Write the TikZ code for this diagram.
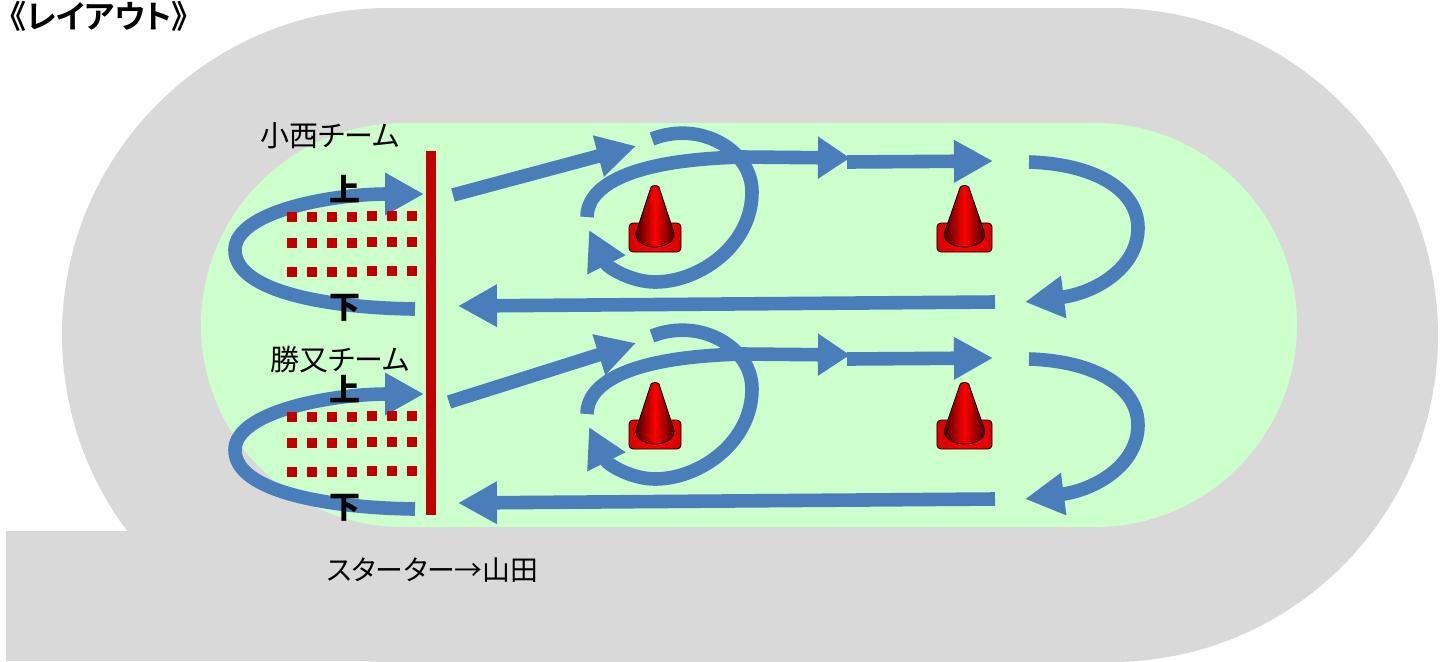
\documentclass[tikz,border=0pt]{standalone}
\usepackage{fontspec}
\usetikzlibrary{arrows.meta}
\newfontfamily\jp[RawFeature=+palt]{Noto Sans CJK JP}
\newfontfamily\jpb[RawFeature=+palt]{Noto Sans CJK JP Bold}
\newfontfamily\jpk{Noto Sans CJK JP Black}
\definecolor{track}{HTML}{D9D9D9}
\definecolor{field}{HTML}{CCFFCC}
\definecolor{flow}{HTML}{4A7EBB}
\definecolor{barred}{HTML}{C00000}
\begin{document}
\begin{tikzpicture}[x=.5pt,y=-.5pt]
\tikzset{run/.style={draw=flow,line width=6.8pt,-{Triangle[length=19.5pt,width=20pt]}}}
\tikzset{name label/.style={font=\jp\fontsize{14.5pt}{16pt}\selectfont,inner sep=0pt}}
\tikzset{mark label/.style={font=\jpk\fontsize{15.5pt}{16pt}\selectfont,inner sep=0pt}}
\tikzset{dot/.style={fill=barred,minimum size=5pt,inner sep=0pt}}
\tikzset{trafficcone/.pic={
  \draw[draw=black,line width=.4pt,rounded corners=2pt,left color=red!85!black,right color=red!85!black,middle color=red]
    (-26,-10) rectangle (26,19);
  \draw[draw=black,line width=.4pt,left color=black!75!red,right color=black!75!red,middle color=red]
    (-4,-46) .. controls (-2,-48) and (2,-48) .. (4,-46) -- (19,0)
    .. controls (20,10) and (8,14) .. (0,14) .. controls (-8,14) and (-20,10) .. (-19,0) -- cycle;
}}
\clip(0,0)rectangle(1448,661);

% ground
\fill[track,rounded corners=163.5pt](62,8)rectangle(1438,662);
\fill[track](6,531)rectangle(500,661);
\fill[field,rounded corners=101pt](201,123)rectangle(1297,527);

\node[font=\jpb\fontsize{16pt}{16pt}\selectfont,inner sep=0pt,anchor=west](title)at(10,16){《レイアウト》};
\node[name label](konishi)at(330,136){小西チーム};
\node[name label](katsumata)at(340,360){勝又チーム};
\node[font=\jp\fontsize{13.9pt}{16pt}\selectfont,inner sep=0pt](starter)at(432.5,570){スターター→山田};

% one team
\foreach \dy/\dl/\sx/\sy/\ty/\n in {0/0/453/195/146/a,197/200/449/402/343/b}{
\coordinate(S\n)at(\sx,\sy);
\coordinate(T\n)at(636,\ty);
\draw[run](S\n)--(T\n);
\begin{scope}[shift={(0,\dl)}]
\coordinate(L0)at(415,309);
\coordinate(L1)at(235,250);
\coordinate(L2)at(424,194);
\draw[run](L0)..controls(330,308)and(235,292)..(L1)..controls(235,212)and(330,194)..(L2);

\foreach \col in {0,...,6}{
\node[dot](d1\col)at({292+20*\col},{217-\col/6}){};
\node[dot](d2\col)at({292+20*\col},{243-\col/6}){};
\node[dot](d3\col)at({292+20*\col},{272-\col/6}){};
}
\node[mark label](up)at(345,189){上};
\node[mark label](down)at(345,308){下};
\end{scope}
\begin{scope}[shift={(0,\dy)}]
\coordinate(C0)at(652,139);
\coordinate(C1)at(752,192);
\coordinate(C2)at(655,282);
\coordinate(C3)at(589,230);
\draw[run](C0)..controls(700,120)and(752,150)..(C1)..controls(752,245)and(700,282)..(C2)
  ..controls(632,282)and(608,268)..(C3);

\coordinate(D0)at(587,217);
\coordinate(D1)at(743,157);
\coordinate(D2)at(850,158);
\draw[run,-{Triangle[length=16pt,width=20pt]}](D0)..controls(587,190)and(620,160)..(D1)--(D2);

\coordinate(E0)at(847,162);
\coordinate(E1)at(993,161);
\draw[run](E0)--(E1);

\coordinate(F0)at(1029,162);
\coordinate(F1)at(1138,228);
\coordinate(F2)at(1025,302);
\draw[run](F0)..controls(1095,164)and(1138,190)..(F1)..controls(1138,268)and(1095,293)..(F2);

\coordinate(G0)at(995,302);
\coordinate(G1)at(458,306);
\draw[run](G0)--(G1);

\pic at(655,233){trafficcone};
\pic[xscale=1.06] at(964.5,233){trafficcone};
\end{scope}
}

\fill[barred](426,151)rectangle(436,515);
\end{tikzpicture}
\end{document}
